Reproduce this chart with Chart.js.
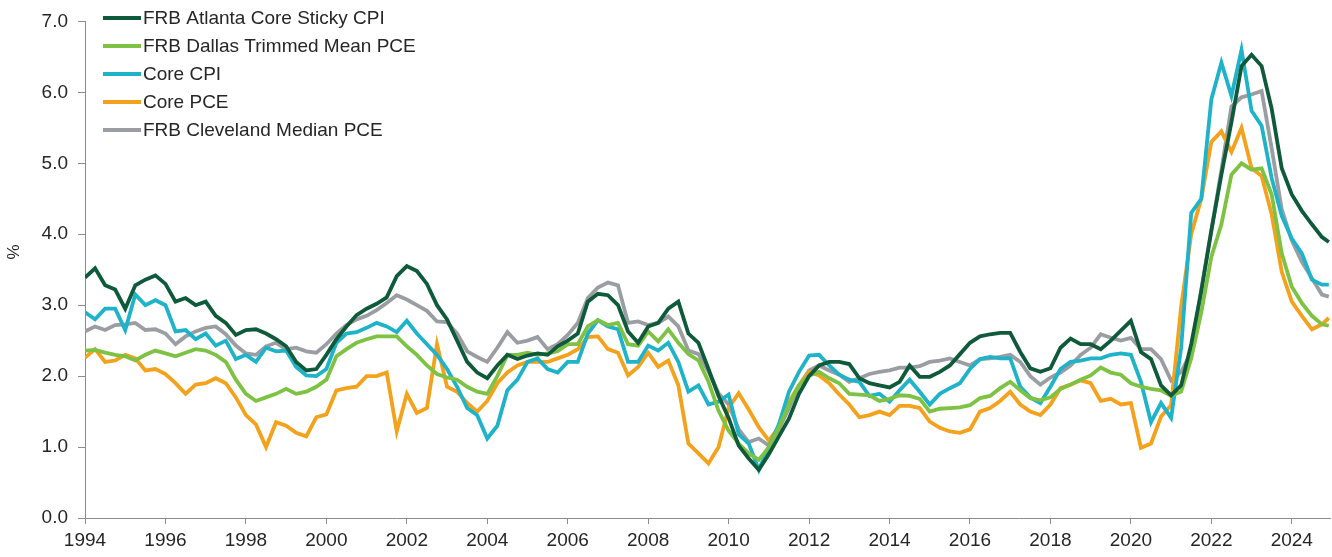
<!DOCTYPE html>
<html>
<head>
<meta charset="utf-8">
<script src="https://cdn.jsdelivr.net/npm/chart.js@4.4.1/dist/chart.umd.min.js"></script>
<style>
  body { margin: 0; background: #fff; }
</style>
</head>
<body>
<canvas id="coreInflationChart" width="1332" height="557"></canvas>
<script>
// quarterly readings, 1994 Q1 .. 2024 Q4, plus the last monthly print
const quarterDates = [];
for (let yr = 1994; yr < 2025; yr++) {
    for (let q = 0; q < 4; q++) quarterDates.push(yr + q / 4);
}
quarterDates.push(2024.92);

const seriesLabels = [
    'FRB Atlanta Core Sticky CPI',
    'FRB Dallas Trimmed Mean PCE',
    'Core CPI',
    'Core PCE',
    'FRB Cleveland Median PCE'
];

const atlantaSticky = [
    3.39, 3.52, 3.28, 3.22, 2.95, 3.28, 3.36, 3.42, 3.3, 3.05, 3.1, 3.0,
    3.05, 2.85, 2.75, 2.58, 2.65, 2.66, 2.6, 2.52, 2.42, 2.2, 2.08, 2.1,
    2.3, 2.52, 2.7, 2.86, 2.95, 3.02, 3.11, 3.41, 3.55, 3.48, 3.3, 3.0,
    2.8, 2.5, 2.2, 2.05, 1.97, 2.15, 2.3, 2.24, 2.29, 2.32, 2.3, 2.42,
    2.5, 2.6, 3.05, 3.16, 3.14, 3.0, 2.63, 2.47, 2.7, 2.75, 2.95, 3.05,
    2.6, 2.47, 2.1, 1.72, 1.41, 1.02, 0.84, 0.68, 0.9, 1.15, 1.4, 1.75,
    2.0, 2.15, 2.2, 2.2, 2.17, 1.97, 1.9, 1.87, 1.84, 1.92, 2.15, 1.99,
    1.99, 2.06, 2.15, 2.31, 2.47, 2.56, 2.59, 2.61, 2.61, 2.34, 2.11, 2.06,
    2.11, 2.4, 2.53, 2.45, 2.45, 2.38, 2.5, 2.64, 2.78, 2.34, 2.24, 1.87,
    1.73, 1.87, 2.45, 3.2, 4.05, 4.84, 5.58, 6.37, 6.53, 6.37, 5.77, 4.93,
    4.56, 4.33, 4.14, 3.96, 3.89
];
const dallasTrimmed = [
    2.36, 2.37, 2.33, 2.3, 2.28, 2.22, 2.3, 2.36, 2.32, 2.28, 2.33, 2.38,
    2.36, 2.3, 2.2, 1.95, 1.75, 1.65, 1.7, 1.75, 1.82, 1.75, 1.78, 1.85,
    1.95, 2.28, 2.38, 2.47, 2.52, 2.56, 2.56, 2.56, 2.42, 2.3, 2.15, 2.03,
    1.98, 1.95, 1.85, 1.78, 1.75, 2.0, 2.3, 2.3, 2.33, 2.3, 2.32, 2.35,
    2.45, 2.45, 2.7, 2.79, 2.72, 2.75, 2.45, 2.43, 2.63, 2.49, 2.66, 2.47,
    2.31, 2.22, 1.92, 1.51, 1.23, 1.05, 0.91, 0.82, 1.0, 1.28, 1.6, 1.87,
    2.01, 2.06, 1.97, 1.9, 1.75, 1.74, 1.73, 1.65, 1.68, 1.73, 1.72, 1.68,
    1.5, 1.54, 1.55, 1.56, 1.59, 1.69, 1.72, 1.83, 1.92, 1.8, 1.69, 1.66,
    1.7, 1.82, 1.88, 1.95, 2.01, 2.12, 2.05, 2.02, 1.9, 1.85, 1.82, 1.8,
    1.72, 1.78, 2.25, 2.9, 3.68, 4.14, 4.84, 5.0, 4.91, 4.93, 4.56, 3.73,
    3.26, 3.03, 2.85, 2.73, 2.71
];
const coreCpi = [
    2.9, 2.8, 2.95, 2.95, 2.65, 3.15, 3.0, 3.07, 3.0, 2.63, 2.65, 2.52,
    2.6, 2.43, 2.5, 2.24, 2.3, 2.2, 2.4, 2.35, 2.36, 2.13, 2.01, 2.0,
    2.1, 2.47, 2.6, 2.62, 2.68, 2.75, 2.7, 2.62, 2.78, 2.6, 2.45, 2.3,
    2.1, 1.85, 1.55, 1.45, 1.12, 1.3, 1.8, 1.95, 2.2, 2.25, 2.1, 2.05,
    2.2, 2.2, 2.6, 2.79, 2.7, 2.66, 2.2, 2.2, 2.43, 2.36, 2.47, 2.2,
    1.78, 1.87, 1.6, 1.64, 1.74, 1.18, 1.05, 0.68, 1.0, 1.32, 1.78, 2.06,
    2.29, 2.3, 2.15, 2.02, 1.95, 1.92, 1.72, 1.75, 1.64, 1.8, 1.95, 1.78,
    1.6, 1.75, 1.83, 1.9, 2.1, 2.24, 2.27, 2.25, 2.25, 1.85, 1.7, 1.62,
    1.85, 2.1, 2.2, 2.22, 2.25, 2.25, 2.3, 2.32, 2.3, 1.92, 1.35, 1.62,
    1.41, 2.4, 4.3, 4.5, 5.9, 6.42, 5.95, 6.6, 5.74, 5.53, 4.79, 4.26,
    3.94, 3.73, 3.36, 3.29, 3.29
];
const corePce = [
    2.26, 2.38, 2.2, 2.22, 2.3, 2.25, 2.08, 2.1, 2.03, 1.9, 1.75, 1.88,
    1.9, 1.97, 1.9, 1.7, 1.45, 1.32, 1.0, 1.35, 1.3, 1.2, 1.15, 1.42,
    1.46, 1.8, 1.83, 1.85, 2.0, 2.0, 2.05, 1.22, 1.75, 1.48, 1.55, 2.45,
    1.85, 1.78, 1.62, 1.5, 1.65, 1.9, 2.05, 2.15, 2.2, 2.2, 2.2, 2.25,
    2.3, 2.38, 2.55, 2.56, 2.38, 2.33, 2.01, 2.13, 2.33, 2.13, 2.22, 1.87,
    1.05, 0.91, 0.77, 1.0, 1.55, 1.76, 1.53, 1.28, 1.09, 1.28, 1.64, 1.87,
    2.06, 2.01, 1.9, 1.74, 1.6, 1.42, 1.45, 1.5, 1.45, 1.58, 1.58, 1.55,
    1.36, 1.27, 1.22, 1.2, 1.25, 1.5, 1.55, 1.65, 1.78, 1.6, 1.5, 1.45,
    1.6, 1.83, 1.88, 1.94, 1.9, 1.65, 1.68, 1.6, 1.62, 0.99, 1.05, 1.43,
    1.59, 2.98, 4.0, 4.5, 5.3, 5.45, 5.16, 5.5, 4.93, 4.82, 4.28, 3.47,
    3.05, 2.85, 2.66, 2.73, 2.82
];
const clevelandMedian = [
    2.63, 2.7, 2.65, 2.72, 2.73, 2.75, 2.65, 2.66, 2.6, 2.45, 2.56, 2.63,
    2.68, 2.7, 2.59, 2.43, 2.32, 2.3, 2.42, 2.47, 2.38, 2.4, 2.35, 2.33,
    2.45, 2.6, 2.72, 2.8, 2.85, 2.93, 3.03, 3.14, 3.08, 3.0, 2.92, 2.77,
    2.76, 2.6, 2.35, 2.27, 2.2, 2.4, 2.62, 2.47, 2.5, 2.55, 2.38, 2.45,
    2.58, 2.75, 3.1, 3.25, 3.32, 3.28, 2.75, 2.77, 2.72, 2.75, 2.84, 2.7,
    2.36, 2.31, 2.06, 1.76, 1.6, 1.25, 1.07, 1.12, 1.02, 1.25, 1.55, 1.87,
    2.08, 2.15, 2.08, 2.02, 1.92, 1.97, 2.03, 2.06, 2.08, 2.12, 2.12, 2.14,
    2.2, 2.22, 2.25, 2.2, 2.15, 2.24, 2.25, 2.27, 2.3, 2.2, 2.0, 1.88,
    1.98, 2.05, 2.15, 2.3, 2.4, 2.59, 2.54, 2.5, 2.54, 2.38, 2.38, 2.24,
    1.94, 2.06, 2.34, 3.22, 4.05, 4.9, 5.8, 5.93, 5.97, 6.02, 5.21, 4.35,
    3.91, 3.61, 3.38, 3.15, 3.12
];

const seriesValues = [atlantaSticky, dallasTrimmed, coreCpi, corePce, clevelandMedian];
const seriesColors = ['#0e5a3a', '#7dc243', '#1eb3c9', '#f4a11c', '#9a9ea3'];

const fontFamily = '"Liberation Sans", Arial, sans-serif';
const textColor = '#262626';
const axisColor = '#8c8c8c';

// legend inside the plot (top left) and the rotated % unit label
const insideLegend = {
    id: 'insideLegend',
    afterDraw(chart) {
        const ctx = chart.ctx;
        ctx.save();
        ctx.font = '19px ' + fontFamily;
        ctx.textBaseline = 'middle';
        ctx.textAlign = 'left';
        chart.data.datasets.forEach(function (ds, i) {
            const y = 18 + i * 28;
            ctx.strokeStyle = ds.borderColor;
            ctx.lineWidth = 4;
            ctx.beginPath();
            ctx.moveTo(103, y);
            ctx.lineTo(141, y);
            ctx.stroke();
            ctx.fillStyle = textColor;
            ctx.fillText(ds.label, 143, y + 1);
        });

        ctx.translate(14, 252);
        ctx.rotate(-Math.PI / 2);
        ctx.textAlign = 'center';
        ctx.font = '17px ' + fontFamily;
        ctx.fillText('%', 0, 0);
        ctx.restore();
    }
};

const ctx = document.getElementById('coreInflationChart').getContext('2d');
new Chart(ctx, {
    type: 'line',
    data: {
        datasets: seriesLabels.map(function (label, i) {
            return {
                label: label,
                data: seriesValues[i].map((v, k) => ({ x: quarterDates[k], y: v })),
                borderColor: seriesColors[i],
                backgroundColor: seriesColors[i],
                borderWidth: 3.8,
                pointRadius: 0,
                tension: 0,
                fill: false
            };
        })
    },
    options: {
        responsive: false,
        animation: false,
        layout: { padding: { top: 15, right: 2, left: 0, bottom: 0 } },
        plugins: {
            legend: { display: false },
            tooltip: { enabled: false }
        },
        scales: {
            x: {
                type: 'linear',
                min: 1994,
                max: 2024.95,
                afterFit: function (scale) { scale.height = 39; },
                border: { color: axisColor, width: 1 },
                grid: { drawOnChartArea: false, drawTicks: true, tickLength: 6, color: axisColor },
                ticks: {
                    stepSize: 2,
                    includeBounds: false,
                    maxRotation: 0,
                    autoSkip: false,
                    padding: 5,
                    color: textColor,
                    font: { family: fontFamily, size: 19 },
                    callback: function (value) {
                        return Number.isInteger(value) ? String(value) : '';
                    }
                }
            },
            y: {
                min: 0,
                max: 7,
                afterFit: function (scale) { scale.width = 85; },
                border: { color: axisColor, width: 1 },
                grid: { drawOnChartArea: false, drawTicks: true, tickLength: 7, color: axisColor },
                ticks: {
                    stepSize: 1,
                    padding: 10,
                    color: textColor,
                    font: { family: fontFamily, size: 19 },
                    callback: function (value) {
                        return value.toFixed(1);
                    }
                }
            }
        }
    },
    plugins: [insideLegend]
});
</script>
</body>
</html>
